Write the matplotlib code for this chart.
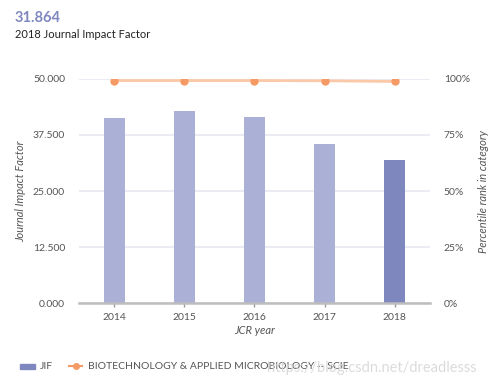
import matplotlib.pyplot as plt
import numpy as np

plt.rcParams['font.family'] = ['Lato', 'DejaVu Sans']

years = ['2014', '2015', '2016', '2017', '2018']
jif = [41.4, 42.9, 41.5, 35.6, 31.864]
percentile = [99.3, 99.3, 99.3, 99.2, 98.9]
y_ticks = [0, 12.5, 25, 37.5, 50]
pct_ticks = [0, 25, 50, 75, 100]

bar_light = '#aab0d6'
bar_dark = '#7f87bf'
line_col = '#fbc8a8'
marker_col = '#f59a64'
text_col = '#555555'

fig = plt.figure(figsize=(4.99, 3.87), dpi=100)
ax = fig.add_axes([0.1583, 0.217, 0.7034, 0.5789])

x = np.arange(len(years))
colors = [bar_light] * (len(years) - 1) + [bar_dark]
ax.bar(x, jif, width=0.3, color=colors, zorder=3)

ax.set_xlim(-0.5, len(years) - 0.5)
ax.set_ylim(0, 50)
ax.set_yticks(y_ticks)
ax.set_yticklabels([f'{v:.3f}' for v in y_ticks])
ax.set_xticks(x)
ax.set_xticklabels(years)
ax.grid(axis='y', color='#ebebf3', linewidth=1.5, zorder=0)
for s in ['top', 'right', 'left']:
    ax.spines[s].set_visible(False)
ax.spines['bottom'].set_color('#bdbdbd')
ax.spines['bottom'].set_linewidth(1.8)
ax.spines['bottom'].set_zorder(4)
ax.tick_params(axis='y', length=0, pad=10, labelsize=7.5, labelcolor=text_col)
ax.tick_params(axis='x', length=3, width=1, color='#999999', pad=4,
               labelsize=7.5, labelcolor=text_col)
ax.set_xlabel('JCR year', fontsize=8, style='italic', color=text_col, labelpad=2)
ax.set_ylabel('Journal Impact Factor', fontsize=8, style='italic', color=text_col, labelpad=5)

ax2 = ax.twinx()
ax2.set_ylim(0, 100)
ax2.set_yticks(pct_ticks)
ax2.set_yticklabels([f'{v}%' for v in pct_ticks])
for s in ax2.spines.values():
    s.set_visible(False)
ax2.tick_params(axis='y', length=0, pad=10, labelsize=7.5, labelcolor=text_col)
ax2.set_ylabel('Percentile rank in category', fontsize=8, style='italic',
               color=text_col, labelpad=6)
ax2.plot(x, percentile, color=line_col, linewidth=2, zorder=5)
ax2.plot(x, percentile, 'o', color=marker_col, markersize=5, zorder=6)

fig.text(0.03, 0.953, '31.864', fontsize=10.5, fontweight='bold', color=bar_dark, va='center')
fig.text(0.03, 0.91, '2018 Journal Impact Factor', fontsize=8, color='#222222', va='center')

# legend
fig.patches.append(plt.Rectangle((0.04, 0.046), 0.03, 0.014, color=bar_dark,
                                 transform=fig.transFigure, figure=fig))
fig.text(0.079, 0.053, 'JIF', fontsize=7.5, color=text_col, va='center')
fig.lines.append(plt.Line2D([0.138, 0.165], [0.053, 0.053], color=marker_col, linewidth=1.5,
                            transform=fig.transFigure, figure=fig))
fig.lines.append(plt.Line2D([0.1515], [0.053], marker='o', color=marker_col, markersize=4,
                            transform=fig.transFigure, figure=fig))
fig.text(0.176, 0.053, 'BIOTECHNOLOGY & APPLIED MICROBIOLOGY -- SCIE', fontsize=7.5,
         color=text_col, va='center')
# watermark from the source image
fig.text(0.535, 0.05, 'https://blog.csdn.net/dreadlesss', fontsize=10.5, color='#d8d8d8',
         va='center', alpha=0.9)

fig.savefig('out.png', dpi=100)
